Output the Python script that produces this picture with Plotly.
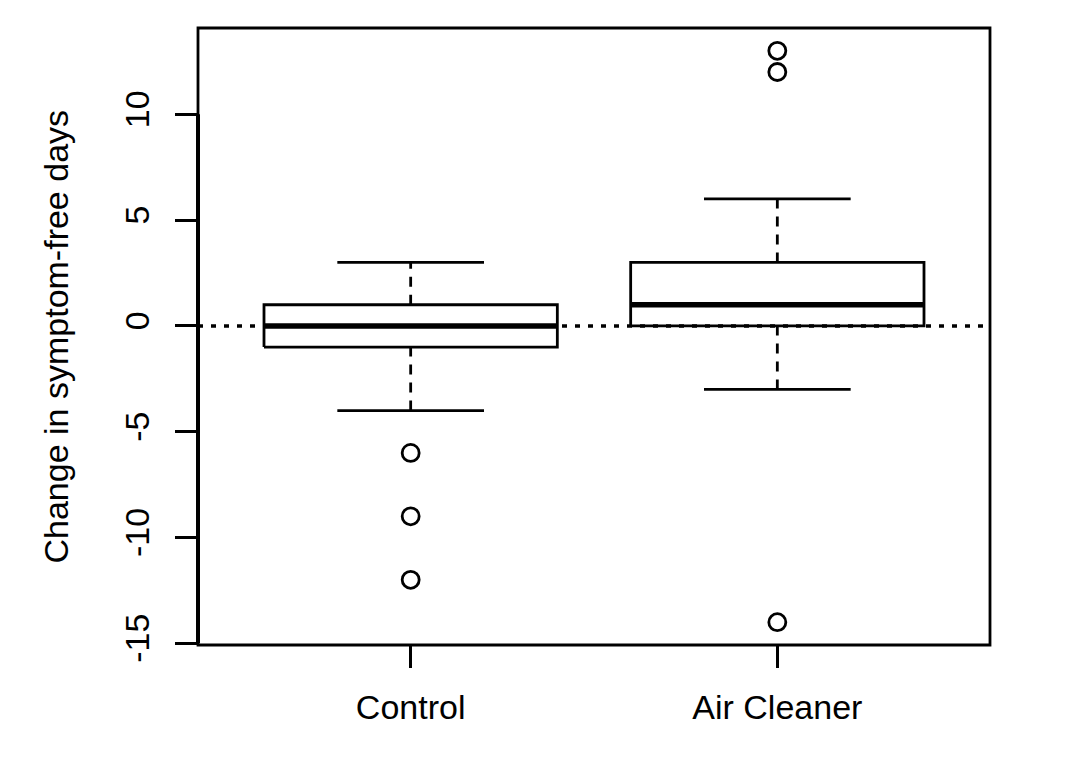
import plotly.graph_objects as go

groups = ['Control', 'Air Cleaner']
q1 = [-1, 0]
medians = [0, 1]
q3 = [1, 3]
whisker_low = [-4, -3]
whisker_high = [3, 6]
outliers = [[-6, -9, -12], [12, 13, -14]]
y_ticks = [-15, -10, -5, 0, 5, 10]

font = dict(family='Liberation Sans, Arial, sans-serif', size=34, color='black')
half_box = 0.4
half_cap = 0.2
lw = 2.8

fig = go.Figure()

for i, name in enumerate(groups):
    x0 = i + 1
    # dashed whiskers
    fig.add_trace(go.Scatter(x=[x0, x0], y=[whisker_low[i], q1[i]], mode='lines',
                             line=dict(color='black', width=lw, dash='10px,8px')))
    fig.add_trace(go.Scatter(x=[x0, x0], y=[q3[i], whisker_high[i]], mode='lines',
                             line=dict(color='black', width=lw, dash='10px,8px')))
    # caps
    for w in [whisker_low[i], whisker_high[i]]:
        fig.add_trace(go.Scatter(x=[x0 - half_cap, x0 + half_cap], y=[w, w], mode='lines',
                                 line=dict(color='black', width=lw)))
    # box
    fig.add_trace(go.Scatter(x=[x0 - half_box, x0 + half_box, x0 + half_box, x0 - half_box, x0 - half_box],
                             y=[q1[i], q1[i], q3[i], q3[i], q1[i]], mode='lines',
                             line=dict(color='black', width=lw)))
    # median
    fig.add_trace(go.Scatter(x=[x0 - half_box, x0 + half_box], y=[medians[i], medians[i]], mode='lines',
                             line=dict(color='black', width=5.5)))
    # outliers
    fig.add_trace(go.Scatter(x=[x0] * len(outliers[i]), y=outliers[i], mode='markers',
                             marker=dict(symbol='circle-open', size=17, color='black',
                                         line=dict(width=lw, color='black'))))

fig.update_layout(
    width=1082, height=760,
    margin=dict(l=190, r=100, t=20, b=123),
    paper_bgcolor='white', plot_bgcolor='white',
    showlegend=False,
    font=font,
    shapes=[
        dict(type='rect', xref='paper', yref='paper', x0=0, x1=1, y0=0, y1=1,
             line=dict(color='black', width=lw), layer='above'),
        dict(type='line', xref='paper', yref='y', x0=0, x1=0, y0=-15, y1=10,
             line=dict(color='black', width=4), layer='above'),
        dict(type='line', xref='paper', yref='y', x0=0, x1=1, y0=0, y1=0,
             line=dict(color='black', width=3.5, dash='5px,8px'), layer='above'),
    ],
    annotations=[
        dict(text='Change in symptom-free days', xref='paper', yref='paper',
             x=0, y=0.5, xshift=-143, textangle=-90, showarrow=False,
             xanchor='center', yanchor='middle', font=font),
    ],
)

fig.update_xaxes(range=[0.42, 2.58], tickvals=[1, 2], ticktext=groups,
                 ticks='outside', ticklen=22, tickwidth=lw, tickcolor='black',
                 ticklabelstandoff=10,
                 showgrid=False, zeroline=False, showline=False)
fig.update_yaxes(range=[-15.08, 14.08], tickvals=y_ticks, ticktext=[str(v) for v in y_ticks],
                 ticks='outside', ticklen=22, tickwidth=lw, tickcolor='black', tickangle=-90,
                 ticklabelstandoff=12,
                 showgrid=False, zeroline=False, showline=False)

fig.write_html('out.html')
